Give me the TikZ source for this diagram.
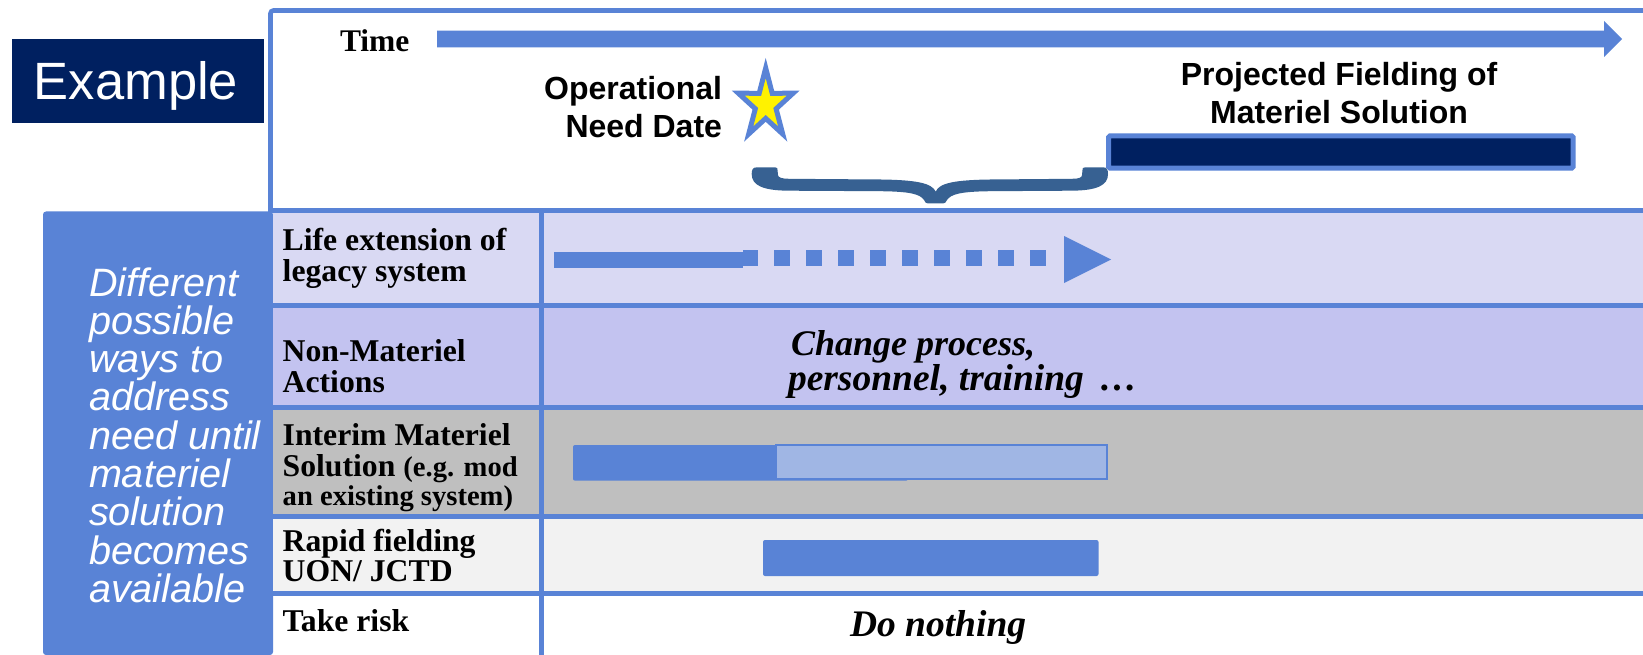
\documentclass[tikz,border=0pt]{standalone}
\usepackage{fontspec}
\usetikzlibrary{calc}
\newfontfamily\sansfam{Liberation Sans}
\newfontfamily\seriffam{Liberation Serif}
\definecolor{tlblue}{RGB}{89,131,214}
\definecolor{navy}{RGB}{0,32,96}
\definecolor{rowA}{RGB}{217,217,243}
\definecolor{rowB}{RGB}{195,195,240}
\definecolor{rowC}{RGB}{191,191,191}
\definecolor{rowD}{RGB}{242,242,242}
\definecolor{barlight}{RGB}{160,182,228}
\definecolor{bracecol}{RGB}{55,97,146}
\begin{document}
\begin{tikzpicture}[x=1pt,y=-1pt,
  txt/.style={inner sep=0pt,outer sep=0pt},
  rowlabel/.style={txt,anchor=base west,font=\seriffam\bfseries\fontsize{31.7}{32}\selectfont},
  smalllabel/.style={txt,anchor=base west,font=\seriffam\bfseries\fontsize{28.6}{29}\selectfont},
  headlabel/.style={txt,font=\sansfam\bfseries\fontsize{32}{32}\selectfont},
  sidetext/.style={txt,anchor=base west,text=white,font=\sansfam\itshape\fontsize{39.6}{39.6}\selectfont},
  actiontext/.style={txt,anchor=base west,font=\seriffam\bfseries\itshape\fontsize{36}{36}\selectfont},
  gridline/.style={tlblue,line width=5pt},
  plainbar/.style={fill=tlblue,rounded corners=2pt}]
\useasboundingbox (0,0) rectangle (1643,655);
\fill[white] (0,0) rectangle (1643,655);

% side panel
\fill[tlblue,rounded corners=3pt] (43,211.5) -- (273,211.5) -- (273,655) -- (43,655) -- cycle;
\foreach \t [count=\i] in {Different,possible,ways to,address,need until,materiel,solution,becomes,available}
  \node[sidetext] (side\i) at (89,{296+38.3*(\i-1)}) {\t};

% row backgrounds
\fill[rowA] (273,210.5) rectangle (1643,305.8);
\fill[rowB] (273,305.8) rectangle (1643,407.8);
\fill[rowC] (273,407.8) rectangle (1643,516.5);
\fill[rowD] (273,516.5) rectangle (1643,593.3);

% grid lines
\foreach \yy in {305.8,407.8,516.5,593.3}
  \draw[gridline] (273,\yy) -- (1643,\yy);
\draw[gridline] (541.8,210.5) -- (541.8,655);
% top frame
\draw[tlblue,line width=4.6pt,rounded corners=3pt] (270.5,212) -- (270.5,10.5) -- (1643,10.5);
\draw[gridline] (268,210.5) -- (1643,210.5);

% title box
\fill[navy] (12,39) rectangle (264,123);
\node[txt,anchor=base,text=white,font=\sansfam\fontsize{52.5}{52.5}\selectfont] (example) at (136,100) {Example};

% time axis
\node[txt,anchor=base west,font=\seriffam\bfseries\fontsize{31.5}{31.5}\selectfont] (timelbl) at (340,52) {Time};
\coordinate (tstart) at (437,39);
\coordinate (tend) at (1622,39);
\fill[tlblue] ($(tstart)+(0,-8.3)$) -- (1604,30.7) -- (1604,21) -- (tend) -- (1604,57) -- (1604,47.3) -- ($(tstart)+(0,8.3)$) -- cycle;

% operational need date
\node[headlabel,anchor=base east] (opnd1) at (722,100) {Operational};
\node[headlabel,anchor=base east] (opnd2) at (722,138) {Need Date};
\draw[tlblue,line width=5pt,fill=yellow,miter limit=20]
  (765.7,68) -- (759.2,93.3) -- (738.3,93.2) -- (755.3,108.8) -- (748.7,134)
  -- (765.7,118.4) -- (782.7,134) -- (776.1,108.8) -- (793.1,93.2) -- (772.2,93.3) -- cycle;

% projected fielding
\node[headlabel,anchor=base] (proj1) at (1339,86) {Projected Fielding of};
\node[headlabel,anchor=base] (proj2) at (1339,123.3) {Materiel Solution};
\draw[tlblue,line width=5pt,fill=navy,rounded corners=1.5pt] (1108.5,135.8) rectangle (1573.2,168.2);

% brace spanning the gap
\fill[bracecol] (778,175) -- (777.5,170) .. controls (777.5,168) .. (775,167.3) -- (757,167.3)
  .. controls (752.5,167.3) and (751.7,170) .. (751.7,174)
  .. controls (751.7,185) and (762,190.7) .. (790,190.7) -- (880,191.2)
  .. controls (910,191.5) and (920,194) .. (924,200) .. controls (925.5,203) .. (929,203.5)
  -- (942,203.5) .. controls (945.5,203) .. (947,200)
  .. controls (951,194) and (961,191.5) .. (991,191.2) -- (1070,190.7)
  .. controls (1098,190.7) and (1108,185) .. (1108,174)
  .. controls (1108,170) and (1107.2,167.3) .. (1103,167.3) -- (1085,167.3)
  .. controls (1082.5,168) .. (1082.5,170) -- (1082,175)
  .. controls (1082,177.5) and (1079,178.8) .. (1072,178.8) -- (990,179.5)
  .. controls (955,180) and (939,183) .. (935.7,191.7)
  .. controls (932,183) and (916,180) .. (881,179.5) -- (789,178.8)
  .. controls (782,178.8) and (778,177.5) .. (778,175) -- cycle;

% row labels
\node[rowlabel] (r1a) at (282.7,250.7) {Life extension of};
\node[rowlabel] (r1b) at (282.7,281.7) {legacy system};
\node[rowlabel] (r2a) at (282.7,361.7) {Non-Materiel};
\node[rowlabel] (r2b) at (282.7,392.7) {Actions};
\node[rowlabel] (r3a) at (282.7,445) {Interim Materiel};
\node[rowlabel] (r3b) at (282.7,476.7) {Solution {\fontsize{28.6}{29}\selectfont (e.g. mod}};
\node[smalllabel] (r3c) at (282.7,505) {an existing system)};
\node[rowlabel] (r4a) at (282.7,551.7) {Rapid fielding};
\node[rowlabel] (r4b) at (282.7,581.7) {UON/ JCTD};
\node[rowlabel] (r5a) at (282.7,631.7) {Take risk};

% life extension: solid then dotted arrow
\fill[tlblue] (554,251.7) rectangle (743,267.7);
\fill[tlblue] (743,250) rectangle (758.3,266);
\draw[tlblue,line width=16pt,dash pattern=on 16pt off 16pt] (774,258) -- (1046,258);
\fill[tlblue] (1064,236) -- (1111,259.5) -- (1064,283) -- cycle;

% non-materiel actions
\node[actiontext] (act1) at (791,355) {Change process,};
\node[actiontext,font=\seriffam\bfseries\itshape\fontsize{37.5}{37.5}\selectfont] (act2) at (788,390) {personnel, training \,…};

% interim materiel solution bars
\fill[plainbar] (573,445) rectangle (908,480.7);
\draw[tlblue,line width=2pt,fill=barlight] (776,445) rectangle (1107,478.5);

% rapid fielding bar
\fill[plainbar] (763,540) rectangle (1098.5,576);

% take risk
\node[actiontext,font=\seriffam\bfseries\itshape\fontsize{37.5}{37.5}\selectfont] (donothing) at (850,636) {Do nothing};
\end{tikzpicture}
\end{document}
